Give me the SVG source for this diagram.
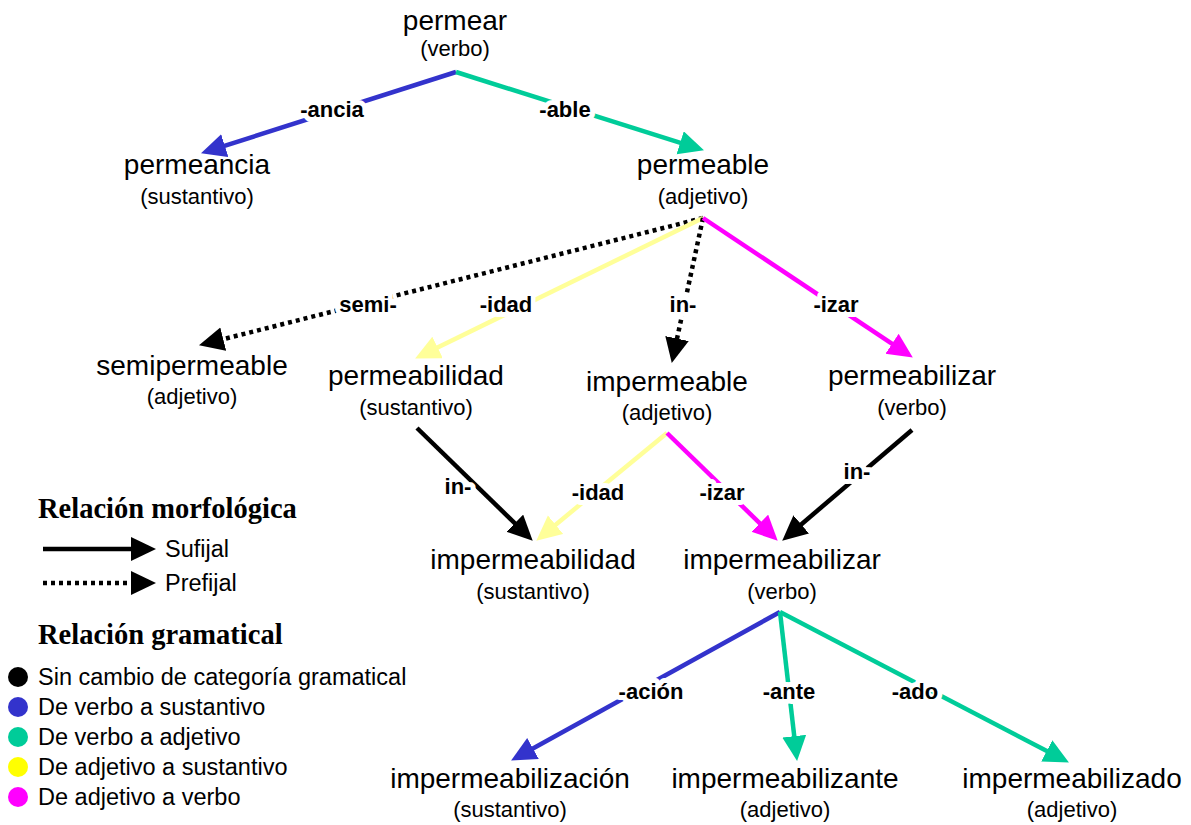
<svg xmlns="http://www.w3.org/2000/svg" width="1191" height="825" viewBox="0 0 1191 825">
<style>
text{font-family:"Liberation Sans",Arial,sans-serif;fill:#000}
.w{font-size:28px;text-anchor:middle}
.c{font-size:22px;text-anchor:middle}
.lb{font-size:22px;font-weight:bold;text-anchor:middle;stroke:#fff;stroke-width:10px;stroke-linejoin:round;paint-order:stroke}
.lg{font-size:23.5px}
.lt{font-family:"Liberation Serif","Times New Roman",serif;font-size:28.5px;font-weight:bold}
.e{fill:none;stroke-width:4.5}
.dot{stroke-dasharray:4 4}
</style>
<defs>
<marker id="aK" markerUnits="userSpaceOnUse" markerWidth="28" markerHeight="26" refX="12" refY="12" orient="auto"><path d="M0,0 L25,12 L0,24 z" fill="#000"/></marker>
<marker id="aB" markerUnits="userSpaceOnUse" markerWidth="28" markerHeight="26" refX="12" refY="12" orient="auto"><path d="M0,0 L25,12 L0,24 z" fill="#3333CC"/></marker>
<marker id="aG" markerUnits="userSpaceOnUse" markerWidth="28" markerHeight="26" refX="12" refY="12" orient="auto"><path d="M0,0 L25,12 L0,24 z" fill="#00CC99"/></marker>
<marker id="aY" markerUnits="userSpaceOnUse" markerWidth="28" markerHeight="26" refX="12" refY="12" orient="auto"><path d="M0,0 L25,12 L0,24 z" fill="#FFFF99"/></marker>
<marker id="aM" markerUnits="userSpaceOnUse" markerWidth="28" markerHeight="26" refX="12" refY="12" orient="auto"><path d="M0,0 L25,12 L0,24 z" fill="#FF00FF"/></marker>
</defs>
<g id="connectors">
<path class="e" stroke="#3333CC" marker-end="url(#aB)" d="M456,72 L213.4,149.4"/>
<path class="e" stroke="#00CC99" marker-end="url(#aG)" d="M456,72 L691.6,146.4"/>
<path class="e dot" stroke="#000" marker-end="url(#aK)" d="M703,218 L211.6,342.1"/>
<path class="e" stroke="#FFFF99" marker-end="url(#aY)" d="M703,218 L426.8,352.7"/>
<path class="e dot" stroke="#000" marker-end="url(#aK)" d="M703,218 L674.5,350.3"/>
<path class="e" stroke="#FF00FF" marker-end="url(#aM)" d="M703,218 L902,350.4"/>
<path class="e" stroke="#000" marker-end="url(#aK)" d="M417,428 L523.4,531.6"/>
<path class="e" stroke="#FFFF99" marker-end="url(#aY)" d="M667,433 L546.3,532.4"/>
<path class="e" stroke="#FF00FF" marker-end="url(#aM)" d="M667,433 L768.4,531.6"/>
<path class="e" stroke="#000" marker-end="url(#aK)" d="M912,430 L792.1,532.2"/>
<path class="e" stroke="#3333CC" marker-end="url(#aB)" d="M780,612 L522.5,754.2"/>
<path class="e" stroke="#00CC99" marker-end="url(#aG)" d="M780,612 L795.6,748.1"/>
<path class="e" stroke="#00CC99" marker-end="url(#aG)" d="M780,612 L1057.4,756.5"/>
<text class="lb" x="332" y="117">-ancia</text>
<text class="lb" x="565" y="117">-able</text>
<text class="lb" x="368" y="312">semi-</text>
<text class="lb" x="506" y="312">-idad</text>
<text class="lb" x="683" y="312">in-</text>
<text class="lb" x="836" y="312">-izar</text>
<text class="lb" x="458" y="494">in-</text>
<text class="lb" x="598" y="500">-idad</text>
<text class="lb" x="722" y="500">-izar</text>
<text class="lb" x="857" y="479">in-</text>
<text class="lb" x="651" y="699">-ación</text>
<text class="lb" x="789" y="699">-ante</text>
<text class="lb" x="915" y="699">-ado</text>
</g>
<g id="permear"><text class="w" x="455" y="30">permear</text><text class="c" x="455" y="56">(verbo)</text></g>
<g id="permeancia"><text class="w" x="197" y="174">permeancia</text><text class="c" x="197" y="204">(sustantivo)</text></g>
<g id="permeable"><text class="w" x="703" y="174">permeable</text><text class="c" x="703" y="204">(adjetivo)</text></g>
<g id="semipermeable"><text class="w" x="192" y="375">semipermeable</text><text class="c" x="192" y="404">(adjetivo)</text></g>
<g id="permeabilidad"><text class="w" x="416" y="385">permeabilidad</text><text class="c" x="416" y="415">(sustantivo)</text></g>
<g id="impermeable"><text class="w" x="667" y="391">impermeable</text><text class="c" x="667" y="420">(adjetivo)</text></g>
<g id="permeabilizar"><text class="w" x="912" y="385">permeabilizar</text><text class="c" x="912" y="415">(verbo)</text></g>
<g id="impermeabilidad"><text class="w" x="533" y="569">impermeabilidad</text><text class="c" x="533" y="599">(sustantivo)</text></g>
<g id="impermeabilizar"><text class="w" x="782" y="569">impermeabilizar</text><text class="c" x="782" y="599">(verbo)</text></g>
<g id="impermeabilizacion"><text class="w" x="510" y="788">impermeabilización</text><text class="c" x="510" y="817">(sustantivo)</text></g>
<g id="impermeabilizante"><text class="w" x="785" y="788">impermeabilizante</text><text class="c" x="785" y="817">(adjetivo)</text></g>
<g id="impermeabilizado"><text class="w" x="1072" y="788">impermeabilizado</text><text class="c" x="1072" y="817">(adjetivo)</text></g>
<g id="legend">
<text class="lt" x="38" y="518">Relación morfológica</text>
<path class="e" stroke="#000" marker-end="url(#aK)" d="M43,549 L143,549"/>
<text class="lg" x="165" y="557">Sufijal</text>
<path class="e dot" stroke="#000" marker-end="url(#aK)" d="M43,583 L143,583"/>
<text class="lg" x="165" y="591">Prefijal</text>
<text class="lt" x="38" y="644">Relación gramatical</text>
<ellipse cx="18" cy="677" rx="10" ry="10" fill="#000"/>
<ellipse cx="18" cy="707" rx="10" ry="10" fill="#3333CC"/>
<ellipse cx="18" cy="737" rx="10" ry="10" fill="#00CC99"/>
<ellipse cx="18" cy="767" rx="10" ry="10" fill="#FFFF00"/>
<ellipse cx="18" cy="797" rx="10" ry="10" fill="#FF00FF"/>
<text class="lg" x="38" y="685">Sin cambio de categoría gramatical</text>
<text class="lg" x="38" y="715">De verbo a sustantivo</text>
<text class="lg" x="38" y="745">De verbo a adjetivo</text>
<text class="lg" x="38" y="775">De adjetivo a sustantivo</text>
<text class="lg" x="38" y="805">De adjetivo a verbo</text>
</g>
</svg>
